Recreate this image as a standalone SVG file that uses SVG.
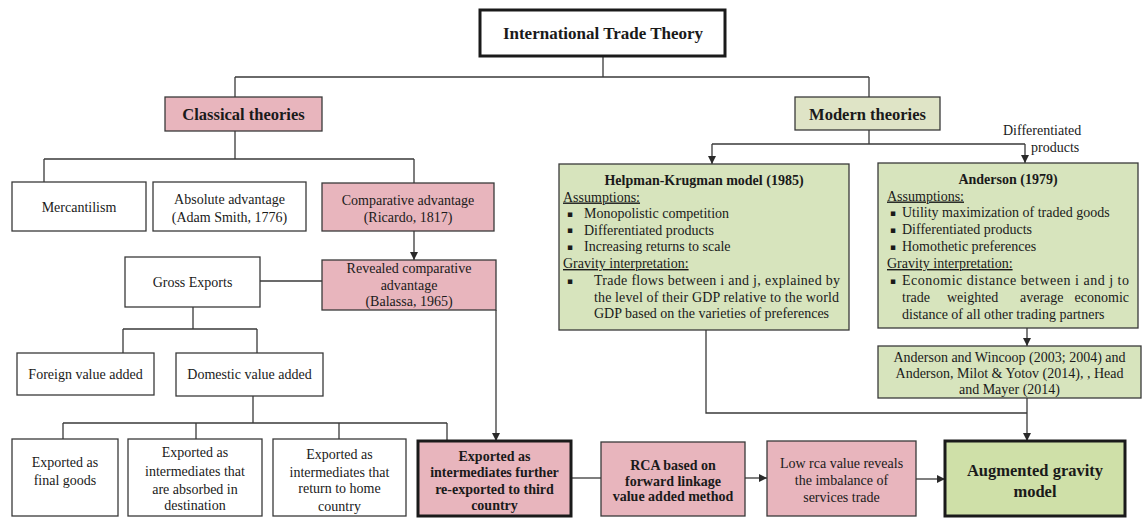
<svg xmlns="http://www.w3.org/2000/svg" width="1143" height="518" viewBox="0 0 1143 518">
<defs>
<style>
.box{stroke:#3a3a3a;stroke-width:1.3}
.w{fill:#ffffff}
.pk{fill:#e8b5bd}
.gr{fill:#d7e4bd}
.gm{fill:#dfe4c6}
.ga{fill:#cfe0a8}
.thick{stroke:#1a1a1a;stroke-width:3}
.t{font-family:"Liberation Serif","Times New Roman",serif;font-size:14px;fill:#1a1a1a}
.b{font-weight:bold}
.c{text-anchor:middle}
.h{font-size:16.5px}
.u{text-decoration:underline}
.bl{font-family:"DejaVu Sans",sans-serif;font-size:9px;fill:#1a1a1a}
.conn{stroke:#3a3a3a;stroke-width:1.3;fill:none}
</style>
<marker id="ar" markerUnits="userSpaceOnUse" markerWidth="8" markerHeight="8" refX="8" refY="4" orient="auto">
<path d="M0,0 L8,4 L0,8 z" fill="#2a2a2a"/>
</marker>
</defs>
<rect width="1143" height="518" fill="#ffffff"/>

<g id="connectors">
<path class="conn" d="M603,56 V77 M235,77 H869 M235,77 V97 M869,77 V97"/>
<path class="conn" d="M235,131 V159 M44,159 H414 M44,159 V182 M414,159 V183"/>
<path class="conn" d="M414,231 V260" marker-end="url(#ar)"/>
<path class="conn" d="M260,281 H322"/>
<path class="conn" d="M193,307 V329 M123,329 H257 M123,329 V353 M257,329 V353"/>
<path class="conn" d="M253,396 V423 M63,423 H447 M63,423 V439 M196,423 V439 M339,423 V439 M447,423 V441"/>
<path class="conn" d="M496,310 V441" marker-end="url(#ar)"/>
<path class="conn" d="M571,478 H601"/>
<path class="conn" d="M745,478 H767" marker-end="url(#ar)"/>
<path class="conn" d="M916,479 H945" marker-end="url(#ar)"/>
<path class="conn" d="M869,130 V144 M712,144 H1025"/>
<path class="conn" d="M712,144 V164" marker-end="url(#ar)"/>
<path class="conn" d="M1025,144 V163" marker-end="url(#ar)"/>
<path class="conn" d="M1027,328 V346" marker-end="url(#ar)"/>
<path class="conn" d="M706,330 V413 H1027"/>
<path class="conn" d="M1027,398 V441" marker-end="url(#ar)"/>
<text class="t" x="1003" y="135">Differentiated</text>
<text class="t" x="1031" y="152">products</text>
</g>

<g id="n-international">
<rect class="w thick" x="480" y="10" width="245" height="46"/>
<text class="t b c" x="603" y="39" style="font-size:17px">International Trade Theory</text>
</g>
<g id="n-classical">
<rect class="pk box" x="165" y="97" width="157" height="34"/>
<text class="t b c h" x="243.5" y="120">Classical theories</text>
</g>
<g id="n-modern">
<rect class="gm box" x="795" y="97" width="145" height="33"/>
<text class="t b c h" x="867.5" y="120">Modern theories</text>
</g>
<g id="n-mercantilism">
<rect class="w box" x="12" y="182" width="134" height="49"/>
<text class="t c" x="79" y="212">Mercantilism</text>
</g>
<g id="n-absolute">
<rect class="w box" x="153" y="182" width="153" height="49"/>
<text class="t c" x="229.5" y="204">Absolute advantage</text>
<text class="t c" x="229.5" y="222">(Adam Smith, 1776)</text>
</g>
<g id="n-comparative">
<rect class="pk box" x="322" y="183" width="172" height="48"/>
<text class="t c" x="408" y="205">Comparative advantage</text>
<text class="t c" x="408" y="222">(Ricardo, 1817)</text>
</g>
<g id="n-gross">
<rect class="w box" x="125" y="257" width="135" height="50"/>
<text class="t c" x="192.5" y="287">Gross Exports</text>
</g>
<g id="n-revealed">
<rect class="pk box" x="322" y="260" width="174" height="50"/>
<text class="t c" x="409" y="273">Revealed comparative</text>
<text class="t c" x="409" y="290">advantage</text>
<text class="t c" x="409" y="306">(Balassa, 1965)</text>
</g>
<g id="n-foreign">
<rect class="w box" x="17" y="353" width="137" height="42"/>
<text class="t c" x="85.5" y="379">Foreign value added</text>
</g>
<g id="n-domestic">
<rect class="w box" x="176" y="353" width="147" height="43"/>
<text class="t c" x="249.5" y="379">Domestic value added</text>
</g>
<g id="n-final">
<rect class="w box" x="12" y="439" width="106" height="77"/>
<text class="t c" x="65" y="467">Exported as</text>
<text class="t c" x="65" y="485">final goods</text>
</g>
<g id="n-absorbed">
<rect class="w box" x="128" y="439" width="134" height="77"/>
<text class="t c" x="195" y="457">Exported as</text>
<text class="t c" x="195" y="476">intermediates that</text>
<text class="t c" x="195" y="494">are absorbed in</text>
<text class="t c" x="195" y="510">destination</text>
</g>
<g id="n-return">
<rect class="w box" x="273" y="439" width="133" height="77"/>
<text class="t c" x="339.5" y="459">Exported as</text>
<text class="t c" x="339.5" y="477">intermediates that</text>
<text class="t c" x="339.5" y="493">return to home</text>
<text class="t c" x="339.5" y="511">country</text>
</g>
<g id="n-reexported">
<rect class="pk thick" x="418" y="441" width="153" height="75"/>
<text class="t b c" x="494.5" y="461">Exported as</text>
<text class="t b c" x="494.5" y="477">intermediates further</text>
<text class="t b c" x="494.5" y="494">re-exported to third</text>
<text class="t b c" x="494.5" y="510">country</text>
</g>
<g id="n-rca">
<rect class="pk box" x="601" y="442" width="144" height="74"/>
<text class="t b c" x="673" y="470">RCA based on</text>
<text class="t b c" x="673" y="486">forward linkage</text>
<text class="t b c" x="673" y="501">value added method</text>
</g>
<g id="n-low">
<rect class="pk box" x="767" y="441" width="149" height="75"/>
<text class="t c" x="841.5" y="468">Low rca value reveals</text>
<text class="t c" x="841.5" y="485">the imbalance of</text>
<text class="t c" x="841.5" y="502">services trade</text>
</g>
<g id="n-augmented">
<rect class="ga thick" x="945" y="441" width="180" height="75"/>
<text class="t b c h" x="1035" y="476">Augmented gravity</text>
<text class="t b c h" x="1035" y="497">model</text>
</g>
<g id="n-helpman">
<rect class="gr box" x="559" y="164" width="290" height="166"/>
<text class="t b c" x="704" y="185">Helpman-Krugman model (1985)</text>
<text class="t u" x="563" y="201.5">Assumptions:</text>
<text class="bl" x="567" y="216.5">▪</text>
<text class="t" x="584" y="218">Monopolistic competition</text>
<text class="bl" x="567" y="233">▪</text>
<text class="t" x="584" y="234.5">Differentiated products</text>
<text class="bl" x="567" y="249.5">▪</text>
<text class="t" x="584" y="251">Increasing returns to scale</text>
<text class="t u" x="563" y="268">Gravity interpretation:</text>
<text class="bl" x="567" y="283.5">▪</text>
<text class="t" x="594" y="285" textLength="246" lengthAdjust="spacing">Trade flows between i and j, explained by</text>
<text class="t" x="594" y="301.5" textLength="245" lengthAdjust="spacing">the level of their GDP relative to the world</text>
<text class="t" x="594" y="318">GDP based on the varieties of preferences</text>
</g>
<g id="n-anderson">
<rect class="gr box" x="878" y="163" width="260" height="165"/>
<text class="t b c" x="1008" y="184">Anderson (1979)</text>
<text class="t u" x="887" y="200.5">Assumptions:</text>
<text class="bl" x="890" y="215.5">▪</text>
<text class="t" x="902" y="217">Utility maximization of traded goods</text>
<text class="bl" x="890" y="232.5">▪</text>
<text class="t" x="902" y="234">Differentiated products</text>
<text class="bl" x="890" y="249.5">▪</text>
<text class="t" x="902" y="251">Homothetic preferences</text>
<text class="t u" x="887" y="268">Gravity interpretation:</text>
<text class="bl" x="890" y="283.5">▪</text>
<text class="t" x="902" y="285" textLength="227" lengthAdjust="spacing">Economic distance between i and j to</text>
<text class="t" y="302"><tspan x="902">trade</tspan><tspan x="947">weighted</tspan><tspan x="1020">average</tspan><tspan x="1129" text-anchor="end">economic</tspan></text>
<text class="t" x="902" y="319">distance of all other trading partners</text>
</g>
<g id="n-wincoop">
<rect class="gr box" x="878" y="346" width="263" height="52"/>
<text class="t c" x="1009.5" y="362">Anderson and Wincoop (2003; 2004) and</text>
<text class="t c" x="1009.5" y="378">Anderson, Milot &amp; Yotov (2014), , Head</text>
<text class="t c" x="1009.5" y="394">and Mayer (2014)</text>
</g>
</svg>
